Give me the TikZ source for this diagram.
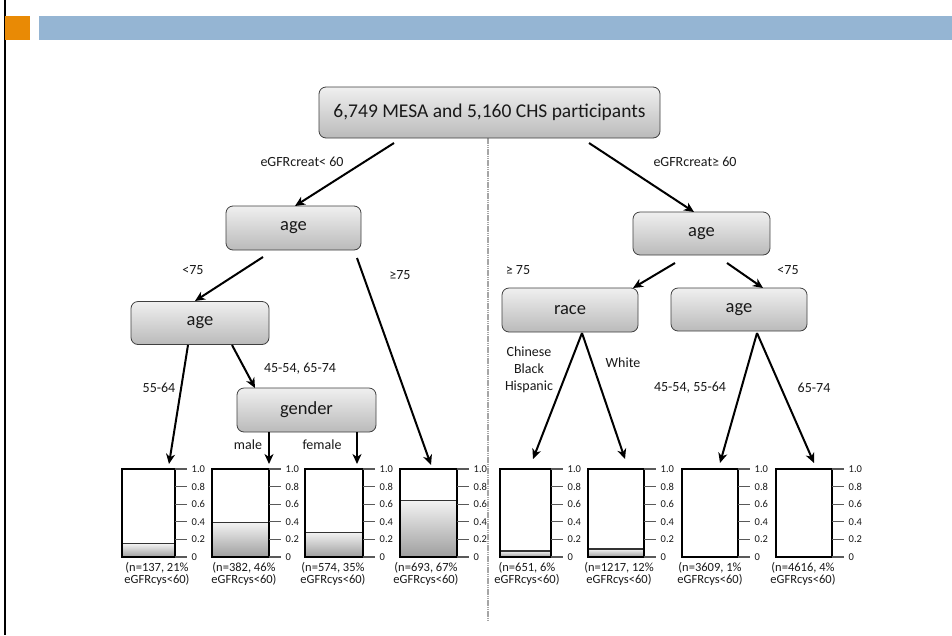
\documentclass[tikz,border=0pt]{standalone}
\usepackage{fontspec}
\setmainfont{Carlito}
\usetikzlibrary{arrows.meta}
\definecolor{barorange}{HTML}{E98A05}
\definecolor{barblue}{HTML}{95B5D3}
\tikzset{
  tn/.style={draw=black!75, line width=0.8pt, rounded corners=7pt, top color=black!6, bottom color=black!27,
    inner sep=0pt, font=\fontsize{18.5}{20}\selectfont, text=black!90},
  arr/.style={line width=2pt, -{Stealth[length=10pt,width=9pt,inset=3pt]}},
  elab/.style={font=\fontsize{14}{17}\selectfont, text=black!90, inner sep=0pt, align=center},
  clab/.style={font=\fontsize{12.5}{12.5}\selectfont, text=black!90, inner sep=0pt, align=center},
  tlab/.style={font=\fontsize{10.5}{11}\selectfont, text=black!90, inner sep=0pt, anchor=west},
  tickln/.style={line width=1.3pt, black!65},
  frame/.style={line width=2pt, black},
}
\newcommand\mychart[5]{%
  \pgfmathsetmacro\cy{557-88*#3}
  \ifdim #3pt>0pt
    \shade[top color=black!5, bottom color=black!38] (#1,\cy) rectangle (#2,557);
    \draw[line width=1.3pt, black!80] (#1,\cy) -- (#2,\cy);
  \fi
  \draw[frame] (#1,469) rectangle (#2,557);
  \foreach \k/\lab in {0/0,1/0.2,2/0.4,3/0.6,4/0.8,5/1.0}{
    \draw[tickln] (#2,557-17.6*\k) -- ++(12,0);
    \node[tlab] at (#2+16.5,557-17.6*\k) {\lab};
  }
  \node[clab] (#4) at (#5,574) {};
}
\begin{document}
\begin{tikzpicture}[x=1pt,y=-1pt]
\useasboundingbox (0,0) rectangle (952,635);
\fill[white] (0,0) rectangle (952,635);
\draw[line width=2pt] (4.5,0) -- (4.5,635);
\fill[barorange] (5,16) rectangle (30,40);
\fill[barblue] (39,16) rectangle (952,40);

% divider
\draw[black!35, line width=2pt, dash pattern=on 1.5pt off 0.7pt] (488,138) -- (488,622);

% decision nodes
\node[tn, minimum width=341pt, minimum height=51pt, font=\fontsize{19.5}{21}\selectfont] (root) at (489.5,112.5) {6,749 MESA and 5,160 CHS participants};
\node[tn, minimum width=135pt, minimum height=44pt] (age1) at (293.5,228) {age};
\node[tn, minimum width=138pt, minimum height=43pt] (age2) at (200,323) {age};
\node[tn, minimum width=139pt, minimum height=44pt] (gender) at (306.5,410) {gender};
\node[tn, minimum width=137pt, minimum height=43pt] (ageR) at (701.5,233.5) {age};
\node[tn, minimum width=136pt, minimum height=44pt] (race) at (570,310) {race};
\node[tn, minimum width=136pt, minimum height=43pt] (ageR2) at (739,309.5) {age};

% charts
\mychart{122}{175}{0.15}{c1}{157}
\mychart{212}{269}{0.39}{c2}{244}
\mychart{305}{363}{0.28}{c3}{334}
\mychart{400}{457}{0.64}{c4}{426}
\mychart{500}{551}{0.07}{c5}{527}
\mychart{588}{644}{0.09}{c6}{619}
\mychart{682}{738}{0}{c7}{710}
\mychart{776}{832}{0}{c8}{803}
\node[clab] (l1) at (157,574) {(n=137, 21\%\\eGFRcys<60)};
\node[clab] (l2) at (244,574) {(n=382, 46\%\\eGFRcys<60)};
\node[clab] (l3) at (333,574) {(n=574, 35\%\\eGFRcys<60)};
\node[clab] (l4) at (426,574) {(n=693, 67\%\\eGFRcys<60)};
\node[clab] (l5) at (527,574) {(n=651, 6\%\\eGFRcys<60)};
\node[clab] (l6) at (619,574) {(n=1217, 12\%\\eGFRcys<60)};
\node[clab] (l7) at (710,574) {(n=3609, 1\%\\eGFRcys<60)};
\node[clab] (l8) at (803,574) {(n=4616, 4\%\\eGFRcys<60)};

% connector endpoints
\coordinate (rA) at (394,143);  \coordinate (a1T) at (295,206);
\coordinate (rB) at (589,143);  \coordinate (aRT) at (694,212);
\coordinate (a1A) at (263,257); \coordinate (a2T) at (195,301);
\coordinate (a1B) at (357,258); \coordinate (c4T) at (431,465);
\coordinate (a2A) at (188,345); \coordinate (c1T) at (169,464);
\coordinate (a2B) at (232,345); \coordinate (gT) at (255,388);
\coordinate (gA) at (269,432);  \coordinate (c2T) at (269,464);
\coordinate (gB) at (357,432);  \coordinate (c3T) at (357,464);
\coordinate (aRA) at (675,263); \coordinate (raT) at (633,288);
\coordinate (aRB) at (727,263); \coordinate (aR2T) at (763,288);
\coordinate (raB) at (582,333); \coordinate (c5T) at (533,459); \coordinate (c6T) at (625,459);
\coordinate (aR2B) at (757,333); \coordinate (c7T) at (720,463); \coordinate (c8T) at (814,463);

\draw[arr] (rA) -- (a1T);
\draw[arr] (rB) -- (aRT);
\draw[arr] (a1A) -- (a2T);
\draw[arr] (a1B) -- (c4T);
\draw[arr] (a2A) -- (c1T);
\draw[arr] (a2B) -- (gT);
\draw[arr] (gA) -- (c2T);
\draw[arr] (gB) -- (c3T);
\draw[arr] (aRA) -- (raT);
\draw[arr] (aRB) -- (aR2T);
\draw[arr] (raB) -- (c5T);
\draw[arr] (raB) -- (c6T);
\draw[arr] (aR2B) -- (c7T);
\draw[arr] (aR2B) -- (c8T);

% edge labels
\node[elab] (e1) at (302,162) {eGFRcreat< 60};
\node[elab] (e2) at (695,162) {eGFRcreat≥ 60};
\node[elab] (e3) at (193,270) {<75};
\node[elab] (e4) at (400,275) {≥75};
\node[elab] (e5) at (159,388) {55-64};
\node[elab] (e6) at (300,369) {45-54, 65-74};
\node[elab] (e7) at (248,445) {male};
\node[elab] (e8) at (322,445) {female};
\node[elab] (e9) at (518,270) {≥ 75};
\node[elab] (e10) at (788,270) {<75};
\node[elab] (e11) at (529,370) {Chinese\\Black\\Hispanic};
\node[elab] (e12) at (623,363) {White};
\node[elab] (e13) at (690,388) {45-54, 55-64};
\node[elab] (e14) at (814,388) {65-74};
\end{tikzpicture}
\end{document}
